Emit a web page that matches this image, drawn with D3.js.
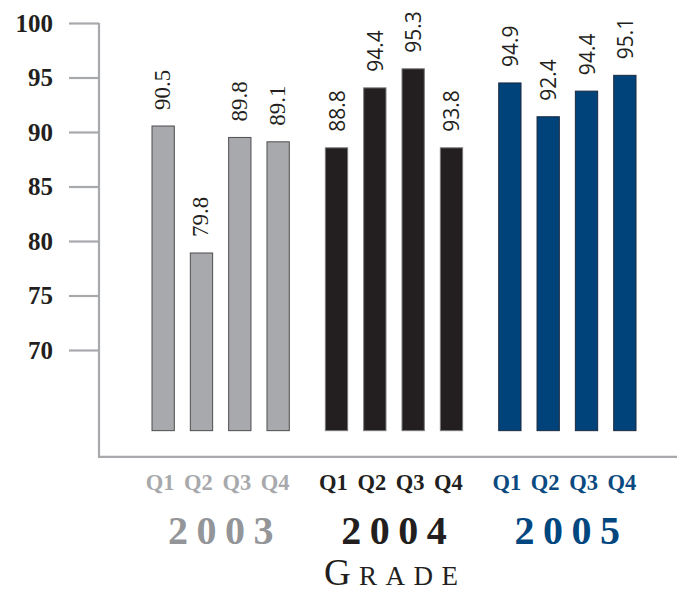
<!DOCTYPE html>
<html><head><meta charset="utf-8">
<script src="https://cdn.jsdelivr.net/npm/d3@7"></script>
<style>body{margin:0;background:#fff}</style>
</head><body><svg id="c" width="677" height="591"></svg>
<script>
const years = ["2003", "2004", "2005"];
const quarters = ["Q1", "Q2", "Q3", "Q4"];
// bar heights as drawn in the picture
const bars2003 = [90.55, 78.9, 89.5, 89.1];
const bars2004 = [88.55, 94.05, 95.8, 88.55];
const bars2005 = [94.5, 91.4, 93.75, 95.2];
// value labels printed above the bars
const labels2003 = ["90.5", "79.8", "89.8", "89.1"];
const labels2004 = ["88.8", "94.4", "95.3", "93.8"];
const labels2005 = ["94.9", "92.4", "94.4", "95.1"];
const yTicks = [70, 75, 80, 85, 90, 95, 100];
const barBase = 62.6;
const axisFloor = 60.2;
const axisTitle = "Grade";

const barSeries = {"2003": bars2003, "2004": bars2004, "2005": bars2005};
const labelSeries = {"2003": labels2003, "2004": labels2004, "2005": labels2005};
const style = {
  "2003": {fill: "#a7a9ac", stroke: "#4d4d4f", q: "#a7a9ac", yr: "#939598", font: "'Liberation Serif', serif", size: 23, off: 7},
  "2004": {fill: "#231f20", stroke: "#7a7a7a", q: "#231f20", yr: "#231f20", font: "'Open Sans', sans-serif", size: 21, off: 8},
  "2005": {fill: "#00437b", stroke: "#1c2a40", q: "#0a4a80", yr: "#00467f", font: "'Open Sans', sans-serif", size: 21, off: 8}
};

const svg = d3.select("#c");
const x0 = d3.scaleBand().domain(years).range([152, 636]).paddingInner(0.208).paddingOuter(0);
const x1 = d3.scaleBand().domain(quarters).range([0, x0.bandwidth()]).paddingInner(0.418).paddingOuter(0);
const y = d3.scaleLinear().domain([60, 100]).range([459, 23]);

// axis frame
svg.append("path")
  .attr("d", `M99,${y(100)}V${y(axisFloor)}H677`)
  .attr("fill", "none").attr("stroke", "#a7a9ac").attr("stroke-width", 2.2);

const ax = svg.append("g").attr("transform", "translate(99,0)")
  .call(d3.axisLeft(y).tickValues(yTicks).tickSize(30).tickPadding(16).tickFormat(d3.format("d")));
ax.select(".domain").remove();
ax.selectAll(".tick line").attr("stroke", "#a7a9ac").attr("stroke-width", 2.2);
ax.selectAll(".tick text")
  .attr("fill", "#231f20").attr("dy", "0.33em")
  .style("font-family", "'Liberation Serif', serif").style("font-weight", "bold").style("font-size", "25px");

const rows = [];
years.forEach(yr => quarters.forEach((q, i) => rows.push({yr, q, v: barSeries[yr][i], t: labelSeries[yr][i]})));

const cx = d => x0(d.yr) + x1(d.q) + x1.bandwidth() / 2;

svg.append("g").selectAll("rect").data(rows).join("rect")
  .attr("x", d => x0(d.yr) + x1(d.q))
  .attr("y", d => y(d.v))
  .attr("width", x1.bandwidth())
  .attr("height", d => y(barBase) - y(d.v))
  .attr("fill", d => style[d.yr].fill)
  .attr("stroke", d => style[d.yr].stroke)
  .attr("stroke-width", 1);

svg.append("g").selectAll("text").data(rows).join("text")
  .attr("transform", d => `translate(${cx(d) + style[d.yr].off},${y(d.v) - 16}) rotate(-90)`)
  .attr("text-anchor", "start")
  .attr("fill", "#231f20")
  .style("font-family", d => style[d.yr].font)
  .style("font-size", d => style[d.yr].size + "px")
  .text(d => d.t);

// quarter labels
svg.append("g").selectAll("text").data(rows).join("text")
  .attr("x", d => cx(d) - 3)
  .attr("y", 490)
  .attr("text-anchor", "middle")
  .attr("fill", d => style[d.yr].q)
  .style("font-family", "'Liberation Serif', serif").style("font-weight", "bold").style("font-size", "22.5px")
  .text(d => d.q);

// year labels
const ls = 8.5;
svg.append("g").selectAll("text").data(years).join("text")
  .attr("x", d => x0(d) + x0.bandwidth() / 2 + ls / 2)
  .attr("y", 544)
  .attr("text-anchor", "middle")
  .attr("fill", d => style[d].yr)
  .style("font-family", "'Liberation Serif', serif").style("font-weight", "bold").style("font-size", "40px")
  .style("letter-spacing", ls + "px")
  .text(d => d);

// axis title in small caps
const gs = 8.5;
const title = svg.append("text")
  .attr("x", x0("2004") + x0.bandwidth() / 2 - 3 + gs / 2)
  .attr("y", 584.5)
  .attr("text-anchor", "middle")
  .attr("fill", "#231f20")
  .style("font-family", "'Liberation Serif', serif")
  .style("letter-spacing", gs + "px");
title.append("tspan").style("font-size", "37px").text(axisTitle.charAt(0).toUpperCase());
title.append("tspan").style("font-size", "27px").text(axisTitle.slice(1).toUpperCase());
</script></body></html>
